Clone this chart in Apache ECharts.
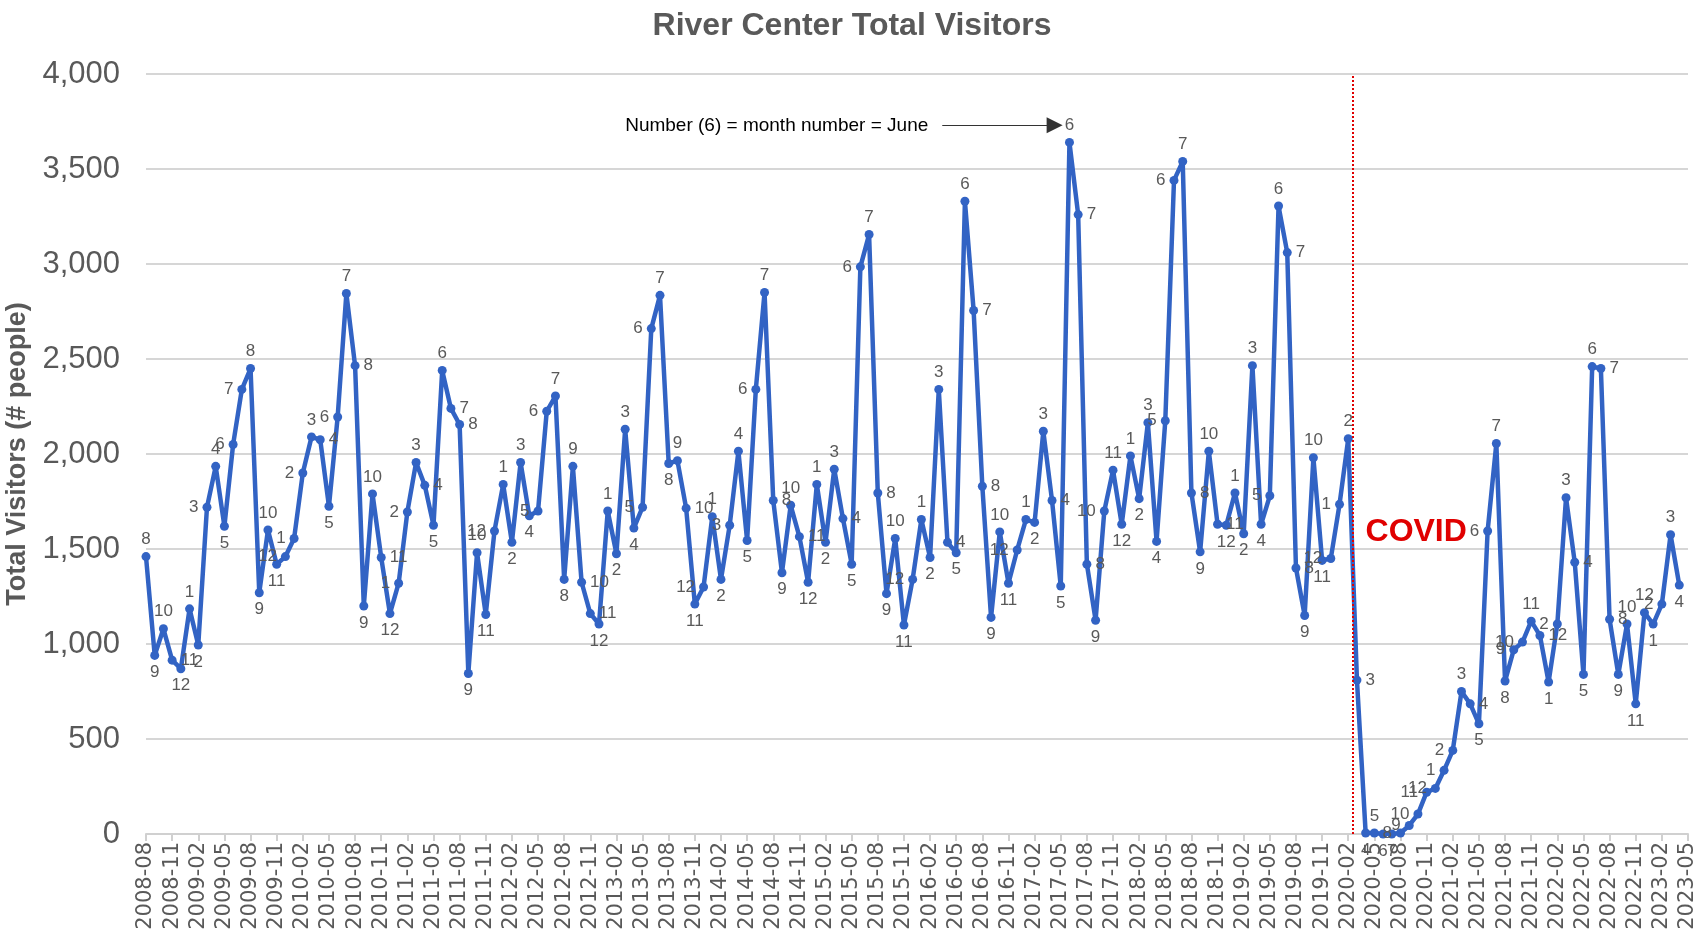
<!DOCTYPE html>
<html>
<head>
<meta charset="utf-8">
<script src="https://cdn.jsdelivr.net/npm/echarts@6/dist/echarts.min.js"></script>
<style>
  html, body { margin: 0; padding: 0; background: #fff; }
  #chart { width: 1704px; height: 932px; }
</style>
</head>
<body>
<div id="chart"></div>
<script>
  // first month of the data and number of months on the axis (last one has no value)
  var startYear = 2008;
  var startMonth = 8;
  var monthCount = 178;

  var visitors = [
    1460, 940, 1080, 915, 870,
    1185, 995, 1720, 1935, 1620, 2050, 2340, 2450, 1270, 1600, 1420, 1460,
    1555, 1900, 2090, 2075, 1725, 2195, 2845, 2465, 1200, 1790, 1455, 1160,
    1320, 1695, 1955, 1835, 1625, 2440, 2240, 2155, 845, 1480, 1155, 1595,
    1840, 1535, 1955, 1675, 1700, 2225, 2305, 1340, 1935, 1325, 1160, 1105,
    1700, 1475, 2130, 1610, 1720, 2660, 2835, 1950, 1965, 1715, 1210, 1300,
    1670, 1340, 1625, 2015, 1545, 2340, 2850, 1755, 1375, 1730, 1565, 1325,
    1840, 1535, 1920, 1660, 1420, 2985, 3155, 1795, 1265, 1555, 1100, 1340,
    1655, 1455, 2340, 1535, 1480, 3330, 2755, 1830, 1140, 1590, 1320, 1495,
    1655, 1640, 2120, 1755, 1305, 3640, 3260, 1420, 1125, 1700, 1915, 1630,
    1990, 1765, 2165, 1540, 2175, 3440, 3540, 1795, 1485, 2015, 1630, 1625,
    1795, 1580, 2465, 1630, 1780, 3305, 3060, 1400, 1150, 1980, 1440, 1450,
    1735, 2080, 810, 5, 5, 0, 0, 5, 45, 105, 220, 240,
    335, 440, 750, 685, 580, 1595, 2055, 805, 970, 1010, 1120, 1045,
    800, 1105, 1770, 1430, 840, 2460, 2450, 1130, 840, 1105, 685, 1165,
    1105, 1210, 1575, 1310
  ];

  var yTicks = [0, 500, 1000, 1500, 2000, 2500, 3000, 3500, 4000];

  // annotations, in axis units (month index, visitors)
  var covidLine = [138.5, 0, 4000];
  var covidText = { label: 'COVID', x: 145.8, y: 1590 };
  var arrowNote = { label: 'Number (6) = month number = June', x1: 91.4, x2: 104.3, y: 3730 };

  var months = [];
  for (var k = 0; k < monthCount; k++) {
    var m = startMonth - 1 + k;
    var yy = startYear + Math.floor(m / 12);
    var mm = (m % 12) + 1;
    months.push(yy + '-' + (mm < 10 ? '0' + mm : mm));
  }

  var narrow = '"Liberation Sans Narrow", "Liberation Sans", Arial, sans-serif';
  var grey = '#595959';
  var blue = '#3263c4';

  function labelPos (i) {
    var v = visitors[i];
    var p = i > 0 ? visitors[i - 1] : v;
    var n = i < visitors.length - 1 ? visitors[i + 1] : v;
    if (v >= p && v >= n) return 'top';
    if (v <= p && v <= n) return 'bottom';
    return v > p ? 'left' : 'right';
  }

  var lineData = visitors.map(function (v, i) {
    return { value: v, label: { position: labelPos(i) } };
  });

  var myChart = echarts.init(document.getElementById('chart'));
  myChart.setOption({
    animation: false,
    title: {
      text: 'River Center Total Visitors',
      left: 'center',
      top: 5,
      textStyle: { fontFamily: narrow, fontSize: 32, fontWeight: 'bold', color: grey }
    },
    grid: { left: 146, right: 16, top: 74, bottom: 98, outerBoundsMode: 'none' },
    xAxis: [{
      type: 'category',
      data: months,
      boundaryGap: false,
      axisLine: { lineStyle: { color: '#d0d0d0', width: 2 } },
      axisTick: { interval: 2, length: 7, lineStyle: { color: '#d0d0d0', width: 2 } },
      axisLabel: {
        interval: 2,
        rotate: 90,
        margin: 8,
        color: grey,
        fontFamily: '"DejaVu Sans", sans-serif',
        fontSize: 21
      },
      splitLine: { show: false }
    }, {
      type: 'value',
      min: 0,
      max: monthCount - 1,
      show: false
    }],
    yAxis: {
      type: 'value',
      min: yTicks[0],
      max: yTicks[yTicks.length - 1],
      interval: yTicks[1] - yTicks[0],
      name: 'Total Visitors (# people)',
      nameLocation: 'middle',
      nameGap: 91,
      nameTextStyle: { fontFamily: narrow, fontSize: 27, fontWeight: 'bold', color: grey },
      axisLine: { show: false },
      axisTick: { show: false },
      axisLabel: {
        margin: 26,
        color: grey,
        fontFamily: narrow,
        fontSize: 31,
        formatter: function (v) { return v.toLocaleString('en-US'); }
      },
      splitLine: { lineStyle: { color: '#c8c8c8', width: 1.5 } }
    },
    series: [{
      name: 'Visitors',
      type: 'line',
      data: lineData,
      symbol: 'circle',
      symbolSize: 9,
      showAllSymbol: true,
      lineStyle: { color: blue, width: 4.5 },
      itemStyle: { color: blue },
      label: {
        show: true,
        distance: 4,
        color: grey,
        fontFamily: narrow,
        fontSize: 17,
        formatter: function (p) { return parseInt(p.name.slice(5), 10); }
      },
      z: 3
    }, {
      name: 'notes',
      type: 'line',
      xAxisIndex: 1,
      data: [],
      silent: true,
      markLine: {
        silent: true,
        animation: false,
        data: [
          [
            { coord: [covidLine[0], covidLine[1]], symbol: 'none',
              lineStyle: { color: '#e00000', type: 'dotted', width: 2 }, label: { show: false } },
            { coord: [covidLine[0], covidLine[2]], symbol: 'none' }
          ],
          [
            { coord: [arrowNote.x1, arrowNote.y], symbol: 'none',
              lineStyle: { color: '#333', type: 'solid', width: 1 },
              label: { show: true, position: 'start', formatter: arrowNote.label, color: '#000',
                fontFamily: narrow, fontSize: 19, distance: 14 } },
            { coord: [arrowNote.x2, arrowNote.y], symbol: 'triangle', symbolSize: [16, 16] }
          ]
        ]
      },
      markPoint: {
        silent: true,
        symbol: 'circle',
        symbolSize: 0,
        data: [{
          coord: [covidText.x, covidText.y],
          label: { show: true, position: 'inside', formatter: covidText.label, color: '#e00000',
            fontFamily: narrow, fontSize: 32, fontWeight: 'bold' }
        }]
      }
    }]
  });
</script>
</body>
</html>
